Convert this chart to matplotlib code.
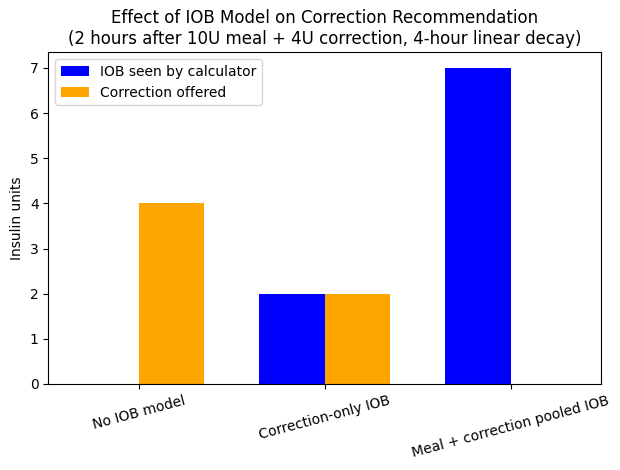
import numpy as np
import matplotlib
matplotlib.use("Agg")
import matplotlib.pyplot as plt

# IOB model scenarios
models = ["No IOB model", "Correction-only IOB", "Meal + correction pooled IOB"]
iob_seen = [0, 2, 7]
correction_offered = [4, 2, 0]

x = np.arange(len(models))
width = 0.35

fig, ax = plt.subplots(figsize=(6.2, 4.7), dpi=100)
ax.bar(x - width / 2, iob_seen, width, color="blue", label="IOB seen by calculator")
ax.bar(x + width / 2, correction_offered, width, color="orange", label="Correction offered")

ax.set_xticks(x)
ax.set_xticklabels(models, rotation=15)
ax.set_ylabel("Insulin units")
ax.set_title("Effect of IOB Model on Correction Recommendation\n"
             "(2 hours after 10U meal + 4U correction, 4-hour linear decay)")
ax.legend(loc="upper left")

fig.subplots_adjust(left=0.078, right=0.969, top=0.889, bottom=0.183)
fig.savefig("out.png")
